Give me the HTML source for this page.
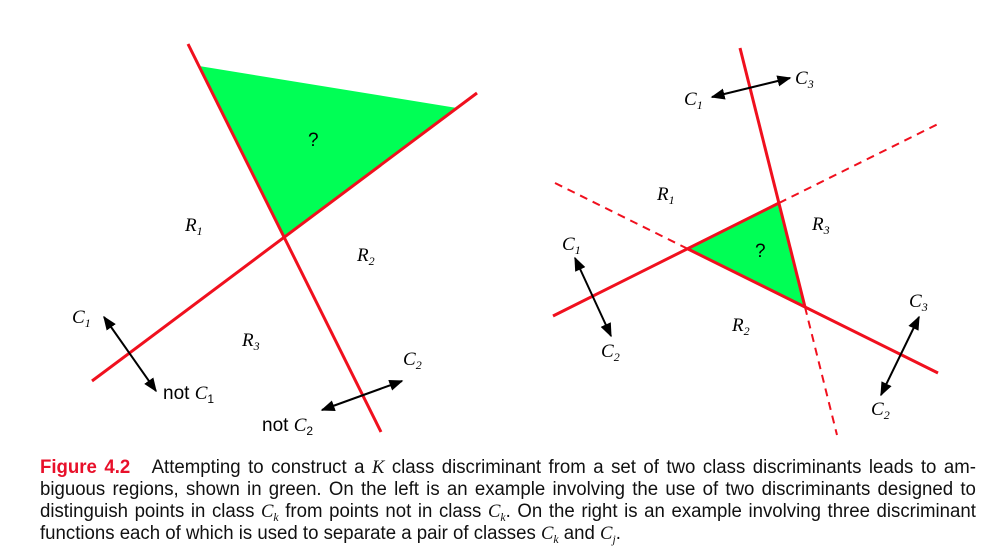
<!DOCTYPE html>
<html><head><style>
body{margin:0;width:1008px;height:546px;background:#fff;position:relative;overflow:hidden}
svg{position:absolute;left:0;top:0}
.cap{position:absolute;left:40px;top:457px;width:955px;transform:scaleX(0.98);transform-origin:0 0;font-family:"Liberation Sans",sans-serif;font-size:19px;color:#111}
.cap div{height:22px;line-height:22px;text-align:justify;text-align-last:justify;white-space:nowrap}
.cap div.l{text-align-last:left}
.cap b{color:#e8102a}
.m{font-family:"Liberation Serif",serif;font-style:italic}
.s{font-size:12px;position:relative;top:4px}
text{font-family:"Liberation Serif",serif;font-style:italic;font-size:19px}
</style></head><body>
<svg width="1008" height="546">
<defs><marker id="a" viewBox="0 0 10 10" refX="9" refY="5" markerWidth="7" markerHeight="7" orient="auto-start-reverse"><path d="M0,1L10,5L0,9z" fill="#000"/></marker></defs>
<polygon points="199,66 457,108 285,238" fill="#00ff55"/>
<line x1="188" y1="44" x2="381" y2="432" stroke="#f0101e" stroke-width="3"/>
<line x1="92" y1="381" x2="477" y2="93" stroke="#f0101e" stroke-width="3"/>
<line x1="104" y1="317" x2="156" y2="391" stroke="#000" stroke-width="2" marker-start="url(#a)" marker-end="url(#a)"/>
<line x1="402" y1="381" x2="322" y2="410" stroke="#000" stroke-width="2" marker-start="url(#a)" marker-end="url(#a)"/>
<text x="72" y="323">C<tspan font-size="12" dy="4">1</tspan></text>
<text x="163" y="399" style="font-style:normal;font-family:'Liberation Sans'" font-size="16">not <tspan style="font-style:italic;font-family:'Liberation Serif'" font-size="19">C</tspan><tspan font-size="12" dy="4">1</tspan></text>
<text x="403" y="365">C<tspan font-size="12" dy="4">2</tspan></text>
<text x="262" y="431" style="font-style:normal;font-family:'Liberation Sans'" font-size="16">not <tspan style="font-style:italic;font-family:'Liberation Serif'" font-size="19">C</tspan><tspan font-size="12" dy="4">2</tspan></text>
<text x="185" y="231">R<tspan font-size="12" dy="4">1</tspan></text>
<text x="357" y="261">R<tspan font-size="12" dy="4">2</tspan></text>
<text x="242" y="346">R<tspan font-size="12" dy="4">3</tspan></text>
<text x="308" y="146" style="font-style:normal;font-family:'Liberation Sans'" font-size="16">?</text>
<polygon points="688,249 779,203 805,307" fill="#00ff55"/>
<line x1="740" y1="48" x2="805" y2="307" stroke="#f0101e" stroke-width="3"/>
<line x1="805" y1="307" x2="837" y2="435" stroke="#f0101e" stroke-width="2" stroke-dasharray="8,6"/>
<line x1="553" y1="316" x2="779" y2="203" stroke="#f0101e" stroke-width="3"/>
<line x1="779" y1="203" x2="940" y2="123" stroke="#f0101e" stroke-width="2" stroke-dasharray="8,6"/>
<line x1="555" y1="183" x2="688" y2="249" stroke="#f0101e" stroke-width="2" stroke-dasharray="8,6"/>
<line x1="688" y1="249" x2="938" y2="373" stroke="#f0101e" stroke-width="3"/>
<line x1="712" y1="97" x2="790" y2="78" stroke="#000" stroke-width="2" marker-start="url(#a)" marker-end="url(#a)"/>
<line x1="575" y1="258" x2="611" y2="336" stroke="#000" stroke-width="2" marker-start="url(#a)" marker-end="url(#a)"/>
<line x1="919" y1="317" x2="881" y2="395" stroke="#000" stroke-width="2" marker-start="url(#a)" marker-end="url(#a)"/>
<text x="684" y="105">C<tspan font-size="12" dy="4">1</tspan></text>
<text x="795" y="84">C<tspan font-size="12" dy="4">3</tspan></text>
<text x="562" y="250">C<tspan font-size="12" dy="4">1</tspan></text>
<text x="601" y="357">C<tspan font-size="12" dy="4">2</tspan></text>
<text x="909" y="307">C<tspan font-size="12" dy="4">3</tspan></text>
<text x="871" y="415">C<tspan font-size="12" dy="4">2</tspan></text>
<text x="657" y="200">R<tspan font-size="12" dy="4">1</tspan></text>
<text x="812" y="230">R<tspan font-size="12" dy="4">3</tspan></text>
<text x="732" y="331">R<tspan font-size="12" dy="4">2</tspan></text>
<text x="755" y="257" style="font-style:normal;font-family:'Liberation Sans'" font-size="16">?</text>
</svg>
<div class="cap">
<div><b>Figure 4.2</b>&nbsp;&nbsp; Attempting to construct a <span class="m">K</span> class discriminant from a set of two class discriminants leads to am-</div>
<div>biguous regions, shown in green. On the left is an example involving the use of two discriminants designed to</div>
<div>distinguish points in class <span class="m">C<span class="s">k</span></span> from points not in class <span class="m">C<span class="s">k</span></span>. On the right is an example involving three discriminant</div>
<div class="l">functions each of which is used to separate a pair of classes <span class="m">C<span class="s">k</span></span> and <span class="m">C<span class="s">j</span></span>.</div>
</div>
</body></html>
